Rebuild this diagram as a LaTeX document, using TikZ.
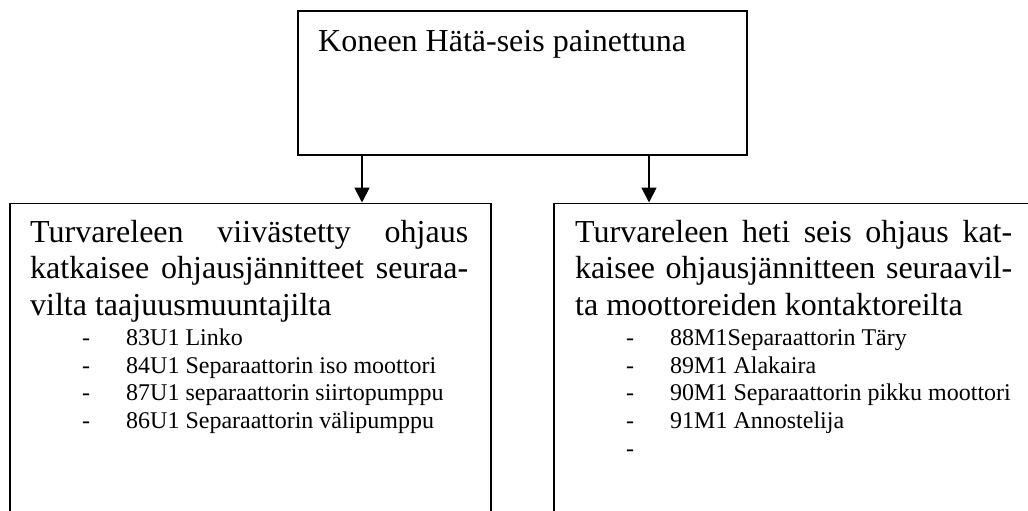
\documentclass[tikz,border=0pt]{standalone}
\usepackage{fontspec}
\setmainfont{Liberation Serif}
\usetikzlibrary{arrows.meta}
\tikzset{
  box/.style={draw, line width=1.8pt, inner sep=0pt, anchor=north west},
  big/.style={anchor=base west, inner sep=0pt, font=\fontsize{32}{38}\selectfont},
  item/.style={anchor=base west, inner sep=0pt, font=\fontsize{24}{28}\selectfont},
  conn/.style={line width=1.8pt, -{Triangle[width=15pt,length=15pt]}}
}
\begin{document}
\begin{tikzpicture}[x=1pt,y=-1pt]
\useasboundingbox (0,0) rectangle (1028,511);
\clip (0,0) rectangle (1028,511);
% boxes
\node[box, minimum width=449pt, minimum height=144pt] (top) at (297,10) {};
\node[box, minimum width=481pt, minimum height=400pt] (left) at (9,202.5) {};
\node[box, minimum width=520pt, minimum height=400pt] (right) at (553,202.5) {};
% connectors
\draw[conn] ([xshift=65pt]top.south west) -- ([xshift=353pt]left.north west);
\draw[conn] ([xshift=352pt]top.south west) -- ([xshift=96pt]right.north west);
% top text
\node[big] (ttext) at (318,52) {Koneen Hätä-seis painettuna};
% left text
\node[big] (l1) at (30,242) {\makebox[438pt][s]{Turvareleen\hfill viivästetty\hfill ohjaus}};
\node[big] (l2) at (30,278) {\makebox[438pt][s]{katkaisee\hfill ohjausjännitteet\hfill seuraa-}};
\node[big] (l3) at (30,315) {vilta taajuusmuuntajilta};
\node[item] (ld1) at (82,345) {-};
\node[item] (li1) at (126,345) {83U1 Linko};
\node[item] (ld2) at (82,373) {-};
\node[item] (li2) at (126,373) {84U1 Separaattorin iso moottori};
\node[item] (ld3) at (82,400) {-};
\node[item] (li3) at (126,400) {87U1 separaattorin siirtopumppu};
\node[item] (ld4) at (82,428) {-};
\node[item] (li4) at (126,428) {86U1 Separaattorin välipumppu};
% right text
\node[big] (r1) at (575,242) {\makebox[437pt][s]{Turvareleen\hfill heti\hfill seis\hfill ohjaus\hfill kat-}};
\node[big] (r2) at (575,278) {\makebox[437pt][s]{kaisee\hfill ohjausjännitteen\hfill seuraavil-}};
\node[big] (r3) at (575,315) {ta moottoreiden kontaktoreilta};
\node[item] (rd1) at (626,345) {-};
\node[item] (ri1) at (670,345) {88M1Separaattorin Täry};
\node[item] (rd2) at (626,373) {-};
\node[item] (ri2) at (670,373) {89M1 Alakaira};
\node[item] (rd3) at (626,400) {-};
\node[item] (ri3) at (670,400) {90M1 Separaattorin pikku moottori};
\node[item] (rd4) at (626,428) {-};
\node[item] (ri4) at (670,428) {91M1 Annostelija};
\node[item] (rd5) at (626,456) {-};
\end{tikzpicture}
\end{document}
